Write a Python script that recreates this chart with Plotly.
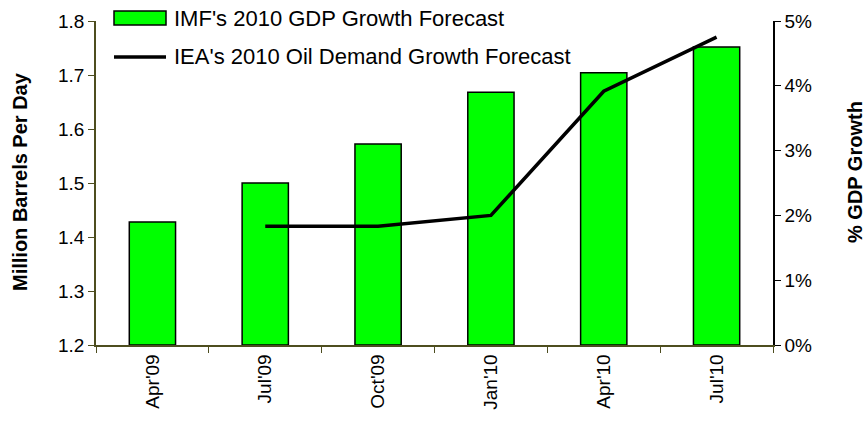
import plotly.graph_objects as go

categories = ["Apr'09", "Jul'09", "Oct'09", "Jan'10", "Apr'10", "Jul'10"]
gdp_growth = [1.9, 2.5, 3.1, 3.9, 4.2, 4.6]          # % (right axis)
oil_demand = [None, 1.42, 1.42, 1.44, 1.67, 1.77]    # million barrels per day (left axis)
bar_name = "IMF's 2010 GDP Growth Forecast"
line_name = "IEA's 2010 Oil Demand Growth Forecast"

FONT = "Liberation Sans, Arial, sans-serif"
OLIVE = "#4d4d1f"
W, H = 866, 424
L, T = 96, 21
R = W - 773
B = H - 345
PW, PH = W - L - R, H - T - B


def px(x):
    return (x - L) / PW


def py(y):
    return (H - B - y) / PH


fig = go.Figure()
fig.add_trace(go.Bar(
    x=categories, y=gdp_growth, name=bar_name,
    marker=dict(color="#00ff00", line=dict(color="black", width=1.5)),
    width=0.41, yaxis="y",
))
fig.add_trace(go.Scatter(
    x=categories, y=oil_demand, name=line_name,
    mode="lines", line=dict(color="black", width=3.5), yaxis="y2",
    connectgaps=False,
))

shapes = [
    dict(type="rect", xref="paper", yref="paper", x0=px(114), x1=px(166),
         y0=py(25), y1=py(11), fillcolor="#00ff00", line=dict(color="black", width=1.5)),
    dict(type="line", xref="paper", yref="paper", x0=px(114), x1=px(166),
         y0=py(57), y1=py(57), line=dict(color="black", width=3.5)),
]
annotations = [
    dict(text=bar_name, xref="paper", yref="paper", x=px(172), y=py(4),
         xanchor="left", yanchor="top", showarrow=False, font=dict(size=22)),
    dict(text=line_name, xref="paper", yref="paper", x=px(172), y=py(42),
         xanchor="left", yanchor="top", showarrow=False, font=dict(size=22)),
    dict(text="<b>Million Barrels Per Day</b>", xref="paper", yref="paper",
         x=px(20), y=py(182), textangle=-90, showarrow=False, font=dict(size=20),
         xanchor="center", yanchor="middle"),
    dict(text="<b>% GDP Growth</b>", xref="paper", yref="paper",
         x=px(855), y=py(172), textangle=-90, showarrow=False, font=dict(size=20),
         xanchor="center", yanchor="middle"),
]

fig.update_layout(
    width=W, height=H,
    margin=dict(l=L, r=R, t=T, b=B, autoexpand=False),
    paper_bgcolor="white", plot_bgcolor="white",
    font=dict(family=FONT, size=19, color="black"),
    showlegend=False,
    shapes=shapes, annotations=annotations,
    xaxis=dict(type="category", showline=True, linecolor=OLIVE, linewidth=1.5,
               ticks="outside", tickson="boundaries", ticklen=6, tickcolor=OLIVE,
               tickangle=-90, showgrid=False, tickfont=dict(size=19), automargin=False),
    yaxis=dict(range=[0, 5], dtick=1, ticksuffix="%", side="right",
               showline=True, linecolor="black", linewidth=1.5,
               ticks="outside", ticklen=6, tickcolor="black", showgrid=False,
               zeroline=False, automargin=False),
    yaxis2=dict(range=[1.2, 1.8], dtick=0.1, tickformat=".1f", side="left",
                overlaying="y", showline=True, linecolor=OLIVE, linewidth=1.5,
                ticks="outside", ticklen=6, tickcolor=OLIVE, showgrid=False,
                zeroline=False, automargin=False),
)

fig.write_html("out.html", config={"displayModeBar": False},
               post_script="document.body.style.margin='0px';document.body.style.overflow='hidden';")
